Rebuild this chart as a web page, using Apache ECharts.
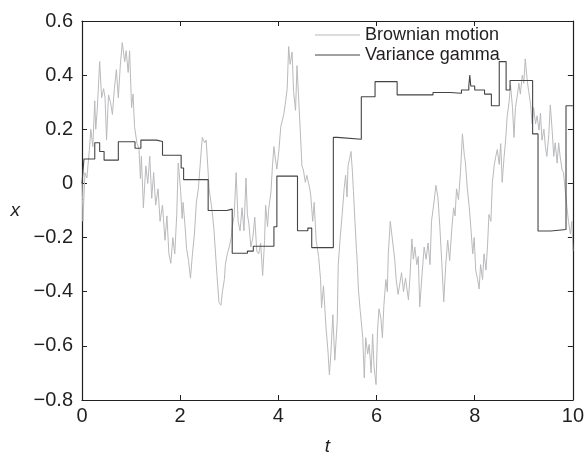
<!DOCTYPE html>
<html>
<head>
<meta charset="utf-8">
<script src="https://cdn.jsdelivr.net/npm/echarts@6/dist/echarts.min.js"></script>
<style>
  html, body { margin: 0; padding: 0; background: #fff; }
  #chart { width: 587px; height: 461px; }
</style>
</head>
<body>
<div id="chart"></div>
<script>
// Brownian motion (t, x)
const bmT = [0.00,0.01,0.02,0.06,0.10,0.15,0.18,0.22,0.26,0.28,0.31,0.36,0.40,0.44,0.47,0.50,0.54,0.58,0.62,0.66,
  0.70,0.74,0.78,0.82,0.87,0.90,0.94,0.97,1.01,1.04,1.07,1.12,1.16,1.19,1.21,1.25,1.30,1.34,1.38,1.42,
  1.46,1.50,1.55,1.59,1.64,1.69,1.73,1.77,1.81,1.85,1.89,1.93,1.96,1.98,2.01,2.04,2.06,2.10,2.13,2.17,
  2.21,2.25,2.29,2.33,2.37,2.41,2.45,2.50,2.53,2.55,2.59,2.65,2.69,2.75,2.79,2.83,2.86,2.90,2.92,2.96,
  3.00,3.04,3.06,3.10,3.14,3.18,3.22,3.26,3.30,3.34,3.37,3.40,3.44,3.48,3.52,3.56,3.60,3.64,3.68,3.72,
  3.74,3.78,3.80,3.85,3.88,3.91,3.94,3.97,4.01,4.05,4.11,4.15,4.18,4.21,4.24,4.28,4.31,4.35,4.38,4.41,
  4.45,4.48,4.51,4.55,4.58,4.64,4.66,4.70,4.73,4.77,4.82,4.86,4.88,4.92,4.97,5.01,5.04,5.07,5.11,5.15,
  5.20,5.22,5.26,5.30,5.34,5.37,5.40,5.42,5.45,5.48,5.51,5.53,5.56,5.59,5.61,5.63,5.67,5.72,5.75,5.78,
  5.82,5.85,5.89,5.92,5.95,5.99,6.02,6.05,6.09,6.12,6.15,6.19,6.22,6.24,6.28,6.31,6.37,6.40,6.44,6.51,
  6.55,6.59,6.65,6.68,6.72,6.75,6.78,6.82,6.85,6.88,6.93,6.97,7.01,7.05,7.09,7.12,7.17,7.21,7.25,7.29,
  7.33,7.37,7.41,7.45,7.49,7.53,7.57,7.60,7.63,7.67,7.71,7.75,7.79,7.81,7.85,7.89,7.92,7.96,7.99,8.02,
  8.06,8.09,8.12,8.16,8.19,8.23,8.26,8.29,8.33,8.36,8.40,8.43,8.46,8.50,8.53,8.56,8.60,8.63,8.66,8.70,
  8.73,8.77,8.80,8.83,8.87,8.90,8.93,8.97,9.00,9.03,9.07,9.10,9.14,9.17,9.20,9.24,9.27,9.31,9.34,9.37,
  9.41,9.44,9.47,9.51,9.54,9.58,9.61,9.64,9.68,9.71,9.74,9.78,9.81,9.84,9.88,9.91,9.95,9.98,10.00]
const bmX = [0.00,-0.06,-0.14,0.04,0.02,0.125,0.20,0.136,0.305,0.20,0.27,0.45,0.316,0.35,0.316,0.16,0.327,0.30,0.255,0.35,
  0.42,0.316,0.435,0.52,0.45,0.49,0.41,0.49,0.28,0.33,0.21,0.148,0.13,0.018,0.10,-0.09,0.065,0.00,0.10,-0.055,
  0.04,-0.08,-0.02,-0.14,-0.08,-0.21,-0.12,-0.26,-0.295,-0.20,-0.26,-0.115,0.075,0.04,-0.03,-0.13,-0.07,-0.16,-0.24,-0.285,
  -0.35,-0.26,-0.187,-0.07,-0.02,0.075,0.17,0.15,0.16,0.10,-0.02,-0.10,-0.175,-0.34,-0.44,-0.45,-0.40,-0.355,-0.30,-0.26,
  -0.235,-0.20,-0.16,-0.12,0.04,-0.14,-0.175,-0.09,-0.175,0.02,-0.115,-0.15,-0.235,-0.20,-0.125,-0.25,-0.26,-0.22,-0.34,-0.21,
  -0.08,-0.16,-0.10,-0.03,0.065,0.136,0.09,0.053,0.12,0.21,0.255,0.305,0.35,0.506,0.44,0.485,0.34,0.27,0.435,0.327,
  0.183,0.065,0.05,0.004,0.03,-0.02,-0.043,-0.14,-0.07,-0.21,-0.27,-0.355,-0.46,-0.378,-0.53,-0.617,-0.707,-0.63,-0.485,-0.653,
  -0.51,-0.30,-0.20,-0.115,-0.02,0.03,-0.05,0.065,0.09,0.118,0.04,-0.03,-0.14,-0.24,-0.30,-0.39,-0.474,-0.57,-0.718,-0.57,
  -0.63,-0.595,-0.70,-0.556,-0.678,-0.743,-0.545,-0.463,-0.50,-0.57,-0.45,-0.355,-0.40,-0.26,-0.14,-0.14,-0.28,-0.355,-0.41,-0.33,
  -0.40,-0.35,-0.43,-0.35,-0.205,-0.28,-0.235,-0.30,-0.27,-0.456,-0.33,-0.235,-0.28,-0.22,-0.30,-0.14,-0.07,-0.007,-0.05,-0.16,
  -0.295,-0.437,-0.30,-0.21,-0.285,-0.175,-0.09,-0.12,-0.02,-0.06,0.04,0.183,0.10,0.08,-0.02,-0.09,-0.16,-0.26,-0.20,-0.32,
  -0.355,-0.39,-0.30,-0.355,-0.26,-0.32,-0.235,-0.115,-0.14,0.004,0.07,0.10,0.125,0.07,0.147,0.004,0.10,0.16,0.245,0.30,
  0.363,0.28,0.17,0.28,0.327,0.37,0.33,0.40,0.37,0.46,0.38,0.34,0.29,0.22,0.28,0.22,0.25,0.197,0.26,0.16,
  0.20,0.136,0.10,0.18,0.29,0.19,0.10,0.15,0.075,0.15,0.10,0.05,0.04,-0.02,-0.09,-0.14,-0.187,-0.14,-0.25]

// Variance gamma: level holds from vgT[i] until vgT[i+1]
const vgT = [0,0.04,0.26,0.36,0.45,0.74,1.08,1.2,1.52,1.64,2.02,2.07,2.57,2.95,3.06,3.37,3.49,3.91,3.97,4.39,
  4.6,4.68,5.12,5.2,5.69,5.97,6.42,7.15,7.5,7.73,7.88,7.9,7.92,8.0,8.2,8.34,8.5,8.64,8.72,9.18,
  9.29,9.55,9.86,10]
const vgX = [0,0.09,0.15,0.118,0.086,0.154,0.13,0.16,0.155,0.104,0.057,0.014,-0.1,-0.095,-0.258,-0.25,-0.232,-0.16,0.027,-0.175,
  -0.165,-0.237,0.17,0.163,0.32,0.376,0.327,0.336,0.333,0.345,0.36,0.40,0.36,0.345,0.33,0.287,0.45,0.345,0.38,0.183,
  -0.176,-0.17,0.287,0.287]

const seriesNames = ['Brownian motion', 'Variance gamma']
const xTicks = [0, 2, 4, 6, 8, 10]
const yTickLabels = ['\u22120.8', '\u22120.6', '\u22120.4', '\u22120.2', '0', '0.2', '0.4', '0.6']

const ink = '#231f20'
const bmColor = '#b9babd'
const vgColor = '#444446'
const font = 'Liberation Sans, Arial, Helvetica, sans-serif'

const chart = echarts.init(document.getElementById('chart'))

const yLabel = v => yTickLabels[Math.round((v + 0.8) / 0.2)]

const boxAxis = (extra) => Object.assign({
  type: 'value',
  axisLine: { show: true, onZero: false, lineStyle: { color: ink, width: 1.2 } },
  axisTick: { show: true, inside: true, length: 5, lineStyle: { color: ink, width: 1 } },
  splitLine: { show: false }
}, extra)

const option = {
  animation: false,
  backgroundColor: '#fff',
  grid: { left: 82, right: 11, top: 21, bottom: 50 },
  legend: {
    orient: 'vertical',
    left: 315,
    top: 26,
    padding: 0,
    icon: 'rect',
    itemWidth: 45,
    itemHeight: 1.2,
    itemGap: 2,
    textStyle: { fontFamily: font, fontSize: 18, color: ink },
    data: [
      { name: seriesNames[0], itemStyle: { color: bmColor } },
      { name: seriesNames[1], itemStyle: { color: vgColor } }
    ]
  },
  xAxis: [
    boxAxis({
      min: 0, max: 10, interval: 2,
      name: 't', nameLocation: 'middle', nameGap: 37,
      nameTextStyle: { fontFamily: font, fontSize: 19, fontStyle: 'italic', color: ink },
      axisLabel: {
        margin: 6, fontFamily: font, fontSize: 20, color: ink,
        formatter: v => String(xTicks[Math.round(v / 2)])
      }
    }),
    boxAxis({ position: 'top', min: 0, max: 10, interval: 2, axisLabel: { show: false } })
  ],
  yAxis: [
    boxAxis({
      min: -0.8, max: 0.6, interval: 0.2,
      name: 'x', nameLocation: 'middle', nameGap: 62, nameRotate: 0,
      nameTextStyle: { fontFamily: font, fontSize: 19, fontStyle: 'italic', color: ink },
      axisLabel: { margin: 9, fontFamily: font, fontSize: 20, color: ink, formatter: yLabel }
    }),
    boxAxis({ position: 'right', min: -0.8, max: 0.6, interval: 0.2, axisLabel: { show: false } })
  ],
  series: [
    {
      name: seriesNames[0],
      type: 'line',
      symbol: 'none',
      data: bmT.map((t, i) => [t, bmX[i]]),
      lineStyle: { color: bmColor, width: 1 },
      itemStyle: { color: bmColor }
    },
    {
      name: seriesNames[1],
      type: 'line',
      symbol: 'none',
      step: 'end',
      data: vgT.map((t, i) => [t, vgX[i]]),
      lineStyle: { color: vgColor, width: 1.1 },
      itemStyle: { color: vgColor }
    }
  ]
}
chart.setOption(option)
</script>
</body>
</html>
